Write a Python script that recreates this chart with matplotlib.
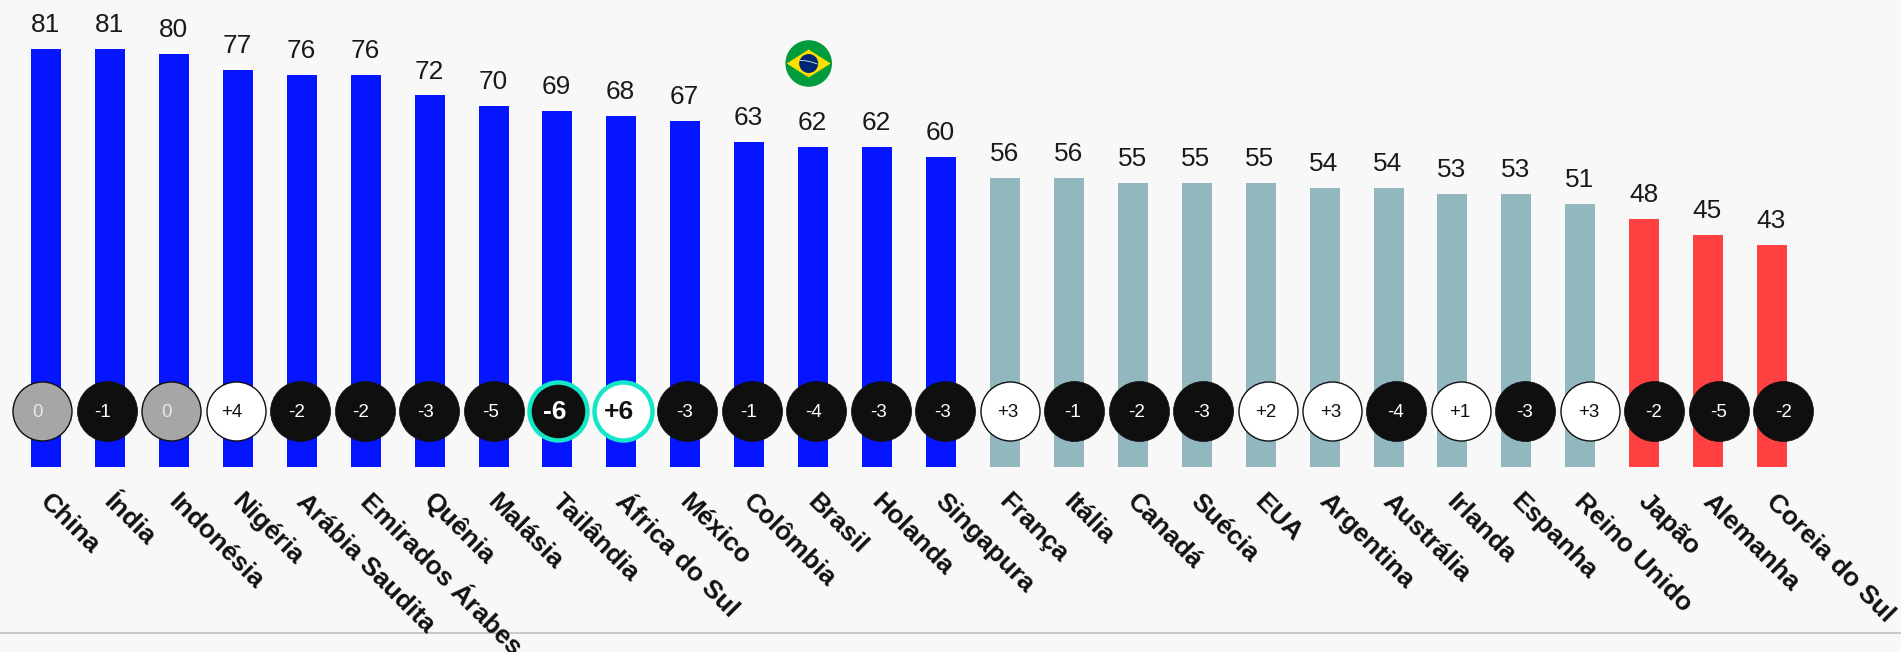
import matplotlib
matplotlib.use("Agg")
import matplotlib.pyplot as plt
import numpy as np
from matplotlib.patches import Circle, Polygon
from matplotlib.transforms import IdentityTransform

countries = ["China","Índia","Indonésia","Nigéria","Arábia Saudita","Emirados Árabes","Quênia","Malásia",
             "Tailândia","África do Sul","México","Colômbia","Brasil","Holanda","Singapura","França","Itália",
             "Canadá","Suécia","EUA","Argentina","Austrália","Irlanda","Espanha","Reino Unido","Japão",
             "Alemanha","Coreia do Sul"]
values = [81,81,80,77,76,76,72,70,69,68,67,63,62,62,60,56,56,55,55,55,54,54,53,53,51,48,45,43]
changes = [0,-1,0,4,-2,-2,-3,-5,-6,6,-3,-1,-4,-3,-3,3,-1,-2,-3,2,3,-4,1,-3,3,-2,-5,-2]
highlighted = ["Tailândia","África do Sul"]

BG="#F8F8F8"; BLUE="#0515FF"; TEAL="#91B8BF"; RED="#FF4040"; INK="#0F0F0F"; GRAY="#A6A6A6"; MINT="#14E6C8"
W,H=1901,652
X0,DX=46.0,63.93
Y0,DY=467.0,5.16

plt.rcParams["font.family"]=["Liberation Sans","DejaVu Sans"]
fig=plt.figure(figsize=(W/100,H/100),dpi=100,facecolor=BG)
ax=fig.add_axes([0,0,1,1],facecolor=BG)
ax.set_xlim(-X0/DX,(W-X0)/DX)
ax.set_ylim((Y0-H)/DY,Y0/DY)
ax.axis("off")

def bar_color(v):
    return BLUE if v>=60 else TEAL if v>=50 else RED

xs=np.arange(len(countries))
ax.bar(xs,values,width=30/DX,color=[bar_color(v) for v in values],linewidth=0,zorder=2)
for x,v in zip(xs,values):
    ax.annotate(str(v),(x,v),xytext=(-0.5,12.2),textcoords="offset points",ha="center",va="baseline",
                fontsize=18.9,color="#1a1a1a",zorder=3)

# badges sit on a slightly wider spacing than the bars
bx=(42.4-X0)/DX+xs*64.48/DX
tx=(37.6-X0)/DX+xs*64.65/DX
by=(Y0-411)/DY
for x,t,c,name in zip(bx,tx,changes,countries):
    hi=name in highlighted
    label="0" if c==0 else f"{c:+d}"
    if hi:
        fc=INK if c<0 else "white"; ec=MINT; lw=3.2; s=(58/100*72)**2
    elif c==0:
        fc=GRAY; ec=INK; lw=1.0; s=(59/100*72)**2
    elif c>0:
        fc="white"; ec=INK; lw=1.0; s=(59/100*72)**2
    else:
        fc=INK; ec=INK; lw=0.5; s=(60/100*72)**2
    ax.scatter([x],[by],s=s,c=fc,edgecolors=ec,linewidths=lw,zorder=4)
    tc="white" if (c<=0) else "#111111"
    if c==0: tc="#E8E8E8"
    ax.text(t,by-0.2,label,ha="center",va="center",color=tc,zorder=5,
            fontsize=19 if hi else 13.5,fontweight="bold" if hi else "normal")

for x,name in zip(xs,countries):
    ax.annotate(name,(x,0),xytext=(-1.5,-22),textcoords="offset points",rotation=-45,rotation_mode="anchor",
                ha="left",va="center",fontsize=19,fontweight="bold",color="#111111",zorder=5,annotation_clip=False)

ax.axhline((Y0-633)/DY,color="#C4C4C4",lw=1.3,zorder=1)

# Brazilian flag badge, in pixel space
T=IdentityTransform()
cx,cy=808.7,H-63.5
fig.add_artist(Circle((cx,cy),23.3,fc="#009B3A",ec="none",transform=T))
fig.add_artist(Polygon([(cx-22,cy),(cx,cy+14),(cx+22,cy),(cx,cy-14)],fc="#FEDF00",ec="none",transform=T))
fig.add_artist(Circle((cx,cy),9.5,fc="#002776",ec="none",transform=T))
ang=np.linspace(0,1,20)
fig.add_artist(plt.Line2D(cx-8.5+17*ang,cy+3-3.5*ang**2,color="#DDEEDD",lw=0.6,transform=T))

fig.savefig("out.png",dpi=100,facecolor=BG)
